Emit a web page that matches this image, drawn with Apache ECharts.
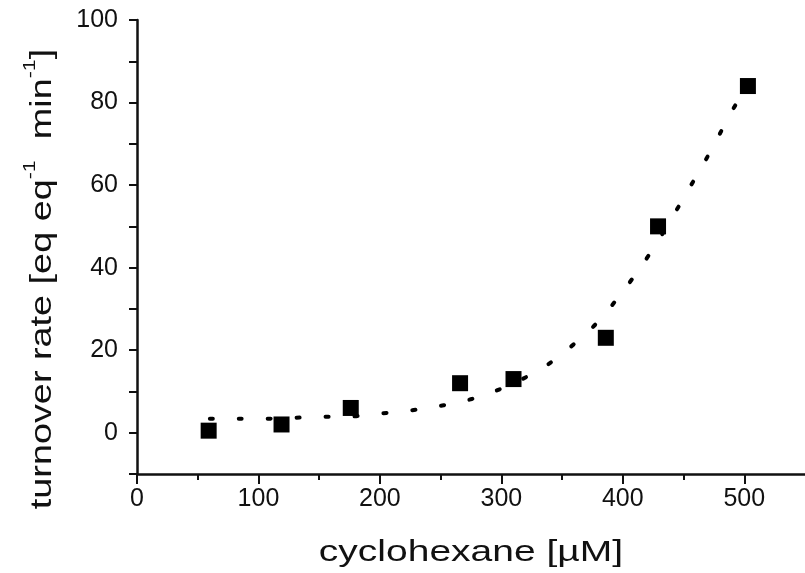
<!DOCTYPE html>
<html>
<head>
<meta charset="utf-8">
<script src="https://cdn.jsdelivr.net/npm/echarts@6/dist/echarts.min.js"></script>
<style>
  html, body { margin: 0; padding: 0; background: #fff; }
  #chart { width: 805px; height: 573px; }
</style>
</head>
<body>
<div id="chart"></div>
<script>
// measured points
const concX = [59, 119, 176, 266, 310, 386, 429, 503]
const rateY = [0.5, 2, 6, 12, 13, 23, 50, 84]

// dotted fit curve
const fitX = [60, 83, 106, 128, 151, 174, 197, 218, 241, 264, 287, 310, 333, 355, 378, 396, 412, 427, 440, 453, 466, 478, 490, 496]
const fitY = [3.4, 3.4, 3.4, 3.6, 3.9, 3.9, 4.6, 5.1, 6.1, 7.3, 9.2, 12, 15.5, 20.3, 26.4, 32.7, 39, 45.5, 51.8, 58.4, 64.9, 71.4, 78, 81]

const xMinorTicks = [50, 150, 250, 350, 450]
const yLabels = [0, 20, 40, 60, 80, 100]

const chart = echarts.init(document.getElementById('chart'))
const font = 'Liberation Sans, Arial, sans-serif'
const ink = '#111'

const option = {
  animation: false,
  backgroundColor: '#fff',
  grid: { left: 137, right: -2, top: 20, bottom: 99 },
  xAxis: [{
    type: 'value',
    min: 0,
    max: 550,
    interval: 100,
    position: 'bottom',
    splitLine: { show: false },
    axisLine: { show: true, onZero: false, lineStyle: { color: ink, width: 2.5 } },
    axisTick: { show: true, length: 10, lineStyle: { color: ink, width: 2 } },
    axisLabel: { showMaxLabel: false, margin: 13, color: ink, fontSize: 25, fontFamily: font }
  }, {
    type: 'value',
    min: 0,
    max: 550,
    position: 'bottom',
    offset: 0,
    splitLine: { show: false },
    axisLine: { show: false, onZero: false },
    axisTick: { show: true, customValues: xMinorTicks, length: 6, lineStyle: { color: ink, width: 2 } },
    axisLabel: { show: false }
  }],
  yAxis: {
    type: 'value',
    min: -10,
    max: 100,
    interval: 10,
    position: 'left',
    splitLine: { show: false },
    axisLine: { show: true, onZero: false, lineStyle: { color: ink, width: 2.5 } },
    axisTick: { show: true, length: 8, lineStyle: { color: ink, width: 2 } },
    axisLabel: { customValues: yLabels, margin: 19, color: ink, fontSize: 25, fontFamily: font }
  },
  graphic: [
    {
      type: 'text',
      x: 40,
      y: 279,
      rotation: Math.PI / 2,
      scaleX: 1.26,
      style: {
        text: '{a|turnover rate [eq eq}{s|-1}{a|  min}{s|-1}{a|]}',
        rich: {
          a: { fontSize: 30, fontFamily: font, fill: ink, lineHeight: 36, verticalAlign: 'bottom' },
          s: { fontSize: 17, fontFamily: font, fill: ink, lineHeight: 36, verticalAlign: 'top' }
        },
        textAlign: 'center',
        textVerticalAlign: 'middle'
      }
    },
    {
      type: 'text',
      x: 471,
      y: 553,
      scaleX: 1.3,
      style: {
        text: 'cyclohexane [µM]',
        fontSize: 30,
        fontFamily: font,
        fill: ink,
        textAlign: 'center',
        textVerticalAlign: 'middle'
      }
    }
  ],
  series: [
    {
      type: 'line',
      data: fitX.map((x, i) => [x, fitY[i]]),
      smooth: 0.3,
      symbol: 'none',
      lineStyle: { color: '#000', width: 4, type: [3, 26], cap: 'round' },
      z: 2
    },
    {
      type: 'scatter',
      data: concX.map((x, i) => [x, rateY[i]]),
      symbol: 'rect',
      symbolSize: 16,
      itemStyle: { color: '#000', opacity: 1 },
      z: 3
    }
  ]
}
chart.setOption(option)
</script>
</body>
</html>
